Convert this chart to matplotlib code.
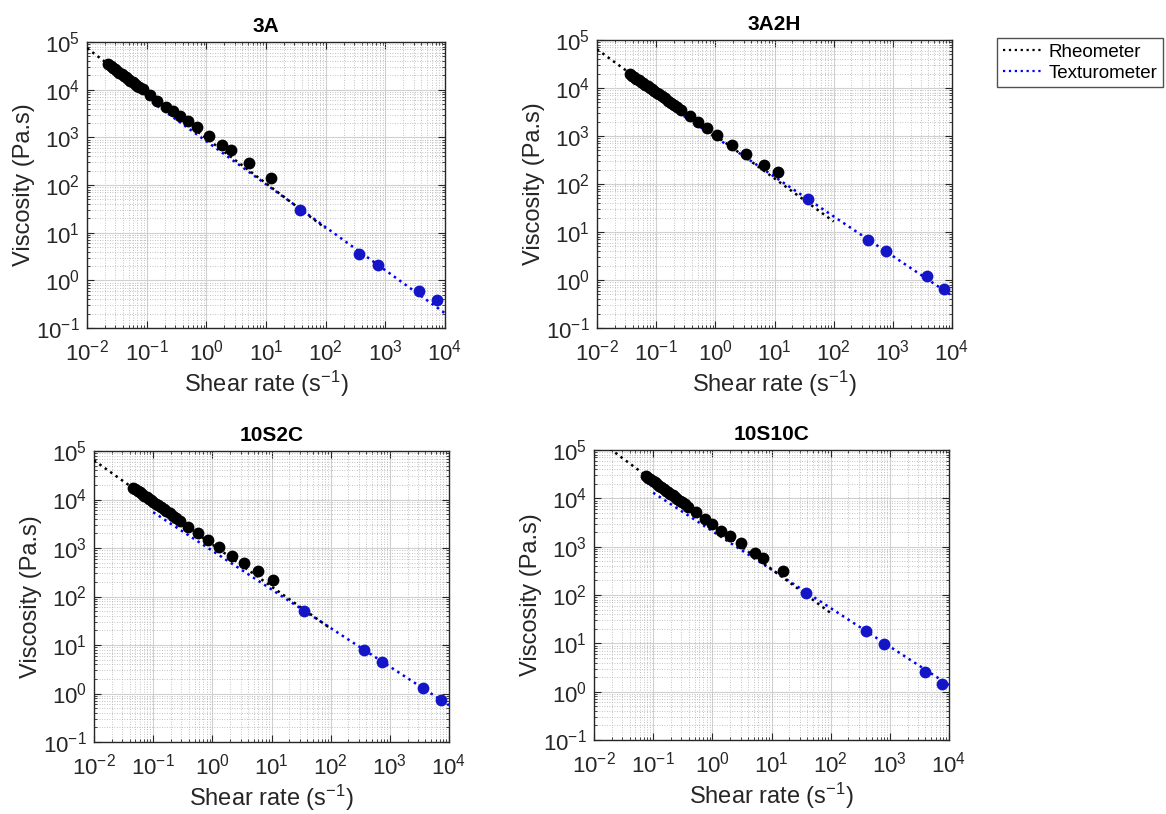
import matplotlib
matplotlib.use("Agg")
import matplotlib.pyplot as plt
import numpy as np
from matplotlib.lines import Line2D
from matplotlib.ticker import LogLocator, LogFormatterSciNotation, NullFormatter

plt.rcParams["font.family"] = ["Liberation Sans", "DejaVu Sans"]
plt.rcParams["mathtext.fontset"] = "custom"
plt.rcParams["mathtext.rm"] = "Liberation Sans"
plt.rcParams["mathtext.it"] = "Liberation Sans:italic"
plt.rcParams["mathtext.bf"] = "Liberation Sans:bold"
plt.rcParams["mathtext.default"] = "regular"

BLUE_LINE = "#0000ff"
BLUE_DOT = "#1515c8"
BLACK = "#000000"
AXIS_GREY = "#262626"

titles = ["3A", "3A2H", "10S2C", "10S10C"]

# rheometer flow curves (shear rate 1/s, viscosity Pa.s)
rheo_rate_3a = [0.0228, 0.025, 0.0272, 0.0296, 0.0322, 0.035, 0.038, 0.0413, 0.045,
                0.049, 0.0535, 0.058, 0.063, 0.0685, 0.0745, 0.0858, 0.114, 0.151,
                0.208, 0.272, 0.362, 0.485, 0.703, 1.12, 1.8, 2.59, 5.1, 11.9]
rheo_visc_3a = [34000, 31300, 28800, 26700, 24700, 22800, 21200, 19600, 18100,
                16700, 15400, 14300, 13200, 12200, 11300, 10200, 7700, 5870,
                4400, 3570, 2800, 2170, 1620, 1070, 690, 542, 285, 142]

rheo_rate_3a2h = [0.0358, 0.039, 0.0425, 0.0463, 0.0505, 0.055, 0.06, 0.0655, 0.0715,
                  0.078, 0.085, 0.093, 0.102, 0.112, 0.125, 0.14, 0.158, 0.178, 0.2,
                  0.228, 0.267, 0.366, 0.509, 0.735, 1.08, 1.92, 3.3, 6.75, 11.6]
rheo_visc_3a2h = [19600, 18200, 16900, 15700, 14600, 13600, 12600, 11700, 10800,
                  10050, 9340, 8650, 7980, 7370, 6700, 6080, 5470, 4950, 4480,
                  4000, 3490, 2620, 2000, 1500, 1055, 653, 425, 250, 182]

rheo_rate_10s2c = [0.046, 0.05, 0.0545, 0.0595, 0.065, 0.071, 0.0775, 0.0845, 0.092,
                   0.1, 0.11, 0.121, 0.134, 0.15, 0.168, 0.19, 0.215, 0.245, 0.28,
                   0.389, 0.573, 0.845, 1.29, 2.17, 3.42, 5.89, 10.5]
rheo_visc_10s2c = [17400, 16200, 15100, 14000, 12900, 12000, 11100, 10300, 9600,
                   8950, 8260, 7600, 6970, 6320, 5740, 5150, 4650, 4150, 3680,
                   2760, 2040, 1465, 1030, 694, 490, 329, 221]

rheo_rate_10s10c = [0.0752, 0.082, 0.0895, 0.0975, 0.106, 0.116, 0.126, 0.138, 0.15,
                    0.164, 0.179, 0.195, 0.213, 0.232, 0.255, 0.28, 0.31, 0.345,
                    0.389, 0.537, 0.743, 1.0, 1.42, 1.96, 3.0, 5.17, 7.14, 15.5]
rheo_visc_10s10c = [29000, 26800, 24800, 23000, 21400, 19700, 18300, 16900, 15700,
                    14500, 13400, 12400, 11500, 10700, 9800, 9000, 8240, 7480,
                    6730, 5130, 3680, 2950, 2110, 1660, 1170, 751, 574, 319]

# texturometer points
tex_rate_3a = [37, 363, 740, 3660, 7400]
tex_visc_3a = [30, 3.5, 2.1, 0.6, 0.39]
tex_rate_3a2h = [36.7, 375, 753, 3760, 7430]
tex_visc_3a2h = [48, 6.9, 4.1, 1.19, 0.65]
tex_rate_10s2c = [36, 365, 733, 3650, 7330]
tex_visc_10s2c = [50, 7.9, 4.5, 1.27, 0.73]
tex_rate_10s10c = [38.5, 394, 783, 3890, 7720]
tex_visc_10s10c = [112, 18.3, 9.5, 2.6, 1.44]

# power-law fits: viscosity = K * rate^slope
rheo_K = [955, 1028, 1183, 2810]
rheo_slope = [-0.945, -0.897, -0.867, -0.911]
tex_K = [828, 948, 875, 2094]
tex_slope = [-0.902, -0.826, -0.796, -0.796]
rheo_fit_range = (1e-2, 1e2)
tex_fit_range = (1e-1, 1e4)

rheo_rates = [rheo_rate_3a, rheo_rate_3a2h, rheo_rate_10s2c, rheo_rate_10s10c]
rheo_viscs = [rheo_visc_3a, rheo_visc_3a2h, rheo_visc_10s2c, rheo_visc_10s10c]
tex_rates = [tex_rate_3a, tex_rate_3a2h, tex_rate_10s2c, tex_rate_10s10c]
tex_viscs = [tex_visc_3a, tex_visc_3a2h, tex_visc_10s2c, tex_visc_10s10c]

W, H = 1166, 814
fig = plt.figure(figsize=(W / 100, H / 100), dpi=100, facecolor="white")

# axes boxes in pixels: left, top, right, bottom
boxes = [(87, 42, 445, 328), (597, 40, 952, 328),
         (94, 451, 449, 742), (594, 450, 949, 740)]


def style_axes(ax):
    ax.set_xscale("log")
    ax.set_yscale("log")
    ax.set_xlim(1e-2, 1e4)
    ax.set_ylim(1e-1, 1e5)
    for axis in (ax.xaxis, ax.yaxis):
        axis.set_major_locator(LogLocator(base=10, numticks=20))
        axis.set_minor_locator(LogLocator(base=10, subs=np.arange(2, 10), numticks=40))
        axis.set_major_formatter(LogFormatterSciNotation())
        axis.set_minor_formatter(NullFormatter())
    ax.grid(True, which="major", color="#d0d0d0", linewidth=0.8, linestyle="-")
    ax.grid(True, which="minor", color="#b0b0b0", linewidth=0.6, linestyle=(0, (1, 2)))
    ax.set_axisbelow(True)
    ax.tick_params(which="both", direction="in", top=True, right=True,
                   color=AXIS_GREY, labelsize=16, labelcolor=AXIS_GREY)
    ax.tick_params(which="major", length=5, width=0.8)
    ax.tick_params(which="minor", length=2.5, width=0.6)
    ax.tick_params(axis="x", which="major", pad=8)
    ax.tick_params(axis="y", which="major", pad=5)
    for sp in ax.spines.values():
        sp.set_color(AXIS_GREY)
        sp.set_linewidth(1.0)
    ax.set_xlabel("Shear rate (s$^{\\mathrm{-1}}$)", fontsize=17, color=AXIS_GREY, labelpad=3)
    ax.set_ylabel("Viscosity (Pa.s)", fontsize=17, color=AXIS_GREY, labelpad=1)


for i, (l, t, r, b) in enumerate(boxes):
    ax = fig.add_axes([l / W, 1 - b / H, (r - l) / W, (b - t) / H])
    style_axes(ax)

    xr = np.array(rheo_fit_range)
    xt = np.array(tex_fit_range)
    ax.plot(xt, tex_K[i] * xt ** tex_slope[i], linestyle=":", color=BLUE_LINE,
            linewidth=1.8, zorder=3)
    ax.plot(xr, rheo_K[i] * xr ** rheo_slope[i], linestyle=":", color=BLACK,
            linewidth=1.8, zorder=3)
    ax.plot(rheo_rates[i], rheo_viscs[i], "o", color=BLACK, markersize=8.5,
            markeredgewidth=0, zorder=4)
    ax.plot(tex_rates[i], tex_viscs[i], "o", color=BLUE_DOT, markersize=8.5,
            markeredgewidth=0, zorder=4)
    ax.set_title(titles[i], fontsize=15, fontweight="bold", pad=7)

handles = [Line2D([], [], linestyle=":", color=BLACK, linewidth=1.6),
           Line2D([], [], linestyle=":", color=BLUE_LINE, linewidth=1.6)]
leg = fig.legend(handles, ["Rheometer", "Texturometer"], loc="upper left",
                 bbox_to_anchor=(997 / W, 1 - 38 / H), fontsize=13.5,
                 frameon=True, fancybox=False, edgecolor=AXIS_GREY,
                 handlelength=2.2, handletextpad=0.25, borderpad=0.3,
                 borderaxespad=0, labelspacing=0.2)
leg.get_frame().set_linewidth(1.0)

fig.savefig("out.png", dpi=100, facecolor="white")
